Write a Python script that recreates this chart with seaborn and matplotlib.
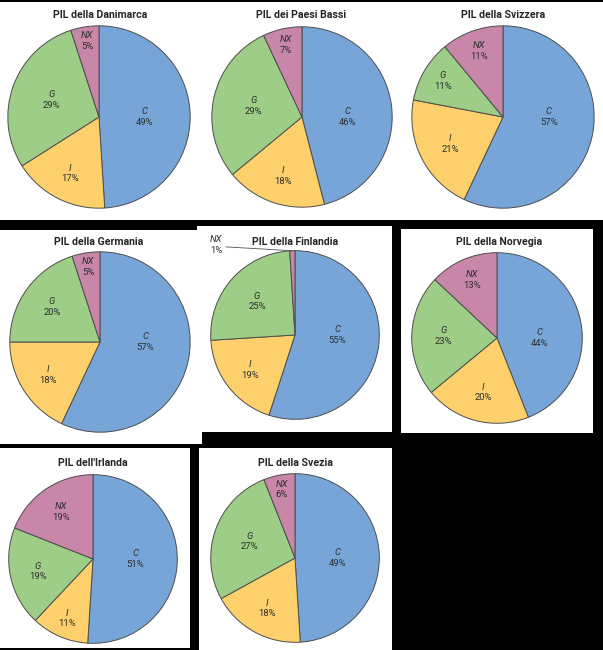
"""
Composizione del PIL (C, I, G, NX) per otto paesi europei.
"""

import numpy as np
import matplotlib
matplotlib.use("Agg")
import matplotlib.pyplot as plt
from matplotlib.patches import Rectangle
import seaborn as sns

W, H = 603, 650

# --- data -------------------------------------------------------------
components = ["C", "I", "G", "NX"]
titles = [
    "PIL della Danimarca", "PIL dei Paesi Bassi", "PIL della Svizzera",
    "PIL della Germania", "PIL della Finlandia", "PIL della Norvegia",
    "PIL dell'Irlanda", "PIL della Svezia",
]
c_share = [49, 46, 57, 57, 55, 44, 51, 49]
i_share = [17, 18, 21, 18, 19, 20, 11, 18]
g_share = [29, 29, 11, 20, 25, 23, 19, 27]
nx_share = [5, 7, 11, 5, 1, 13, 19, 6]

# --- layout (pixels, from top-left) -----------------------------------
panels = [
    (0, 2, 603, 218),     # row 1
    (0, 230, 202, 214),   # Germania
    (197, 226, 195, 206), # Finlandia
    (401, 229, 192, 204), # Norvegia
    (0, 448, 190, 200),   # Irlanda
    (199, 448, 193, 202), # Svezia
]
pie_pos = [
    (99, 117, 93), (302, 117, 92), (503, 117, 93),
    (100, 342, 92), (295, 335, 86), (497, 338, 87),
    (93, 559, 86), (295, 558, 86),
]
title_pos = [
    (100, 15), (301, 15), (503, 15),
    (99, 242), (295, 242), (499, 242),
    (93, 463), (295, 463),
]

sns.set_theme(style="white")
plt.rcParams["font.family"] = ["Roboto", "DejaVu Sans"]

palette = sns.color_palette(["#78a5d8", "#fdd06c", "#9ecd87", "#c886a8"])
EDGE = "#4d4d4d"
TXT = "#2e2e2e"
FS = 6.8


def fx(x):
    return x / W


def fy(y):
    return 1 - y / H


def put_label(ax, x, y, name, v, ha="center"):
    ax.text(x, y + 0.01, name, style="italic", fontsize=FS, color=TXT,
            ha=ha, va="bottom")
    ax.text(x, y - 0.01, f"{v}%", fontsize=FS, color=TXT, ha=ha, va="top")


fig = plt.figure(figsize=(W / 100, H / 100), dpi=100, facecolor="black")

for (x, y, w, h) in panels:
    fig.add_artist(Rectangle((fx(x), fy(y + h)), w / W, h / H,
                             transform=fig.transFigure, facecolor="white",
                             edgecolor="none", zorder=0))

for k, title in enumerate(titles):
    cx, cy, r = pie_pos[k]
    ax = fig.add_axes([fx(cx - r), fy(cy + r), 2 * r / W, 2 * r / H])
    values = [c_share[k], i_share[k], g_share[k], nx_share[k]]
    wedges, _ = ax.pie(values, colors=palette, startangle=90, counterclock=False,
                       radius=1, wedgeprops=dict(edgecolor=EDGE, linewidth=0.7))
    ax.set_xlim(-1.02, 1.02)
    ax.set_ylim(-1.02, 1.02)
    ax.set_aspect("equal")
    ax.axis("off")

    for wedge, name, v in zip(wedges, components, values):
        mid = np.deg2rad((wedge.theta1 + wedge.theta2) / 2)
        if v <= 2:
            # tiny slice: label outside with a leader line
            tip = (np.cos(mid), np.sin(mid))
            ax.plot([-0.82, tip[0]], [1.045, tip[1]], color="#555555", lw=0.6,
                    clip_on=False)
            put_label(ax, -0.86, 1.07, name, v, ha="right")
            continue
        if name == "C":
            # the big consumption slice is labelled on the horizontal
            mid, dist = 0.0, 0.5
        else:
            dist = float(np.clip(0.9 - 0.012 * v, 0.5, 0.85))
        put_label(ax, dist * np.cos(mid), dist * np.sin(mid), name, v)

    tx, ty = title_pos[k]
    fig.text(fx(tx), fy(ty), title, ha="center", va="center",
             fontsize=7.6, fontweight="semibold", color="#262626")

fig.savefig("out.png", dpi=100, facecolor="black")
